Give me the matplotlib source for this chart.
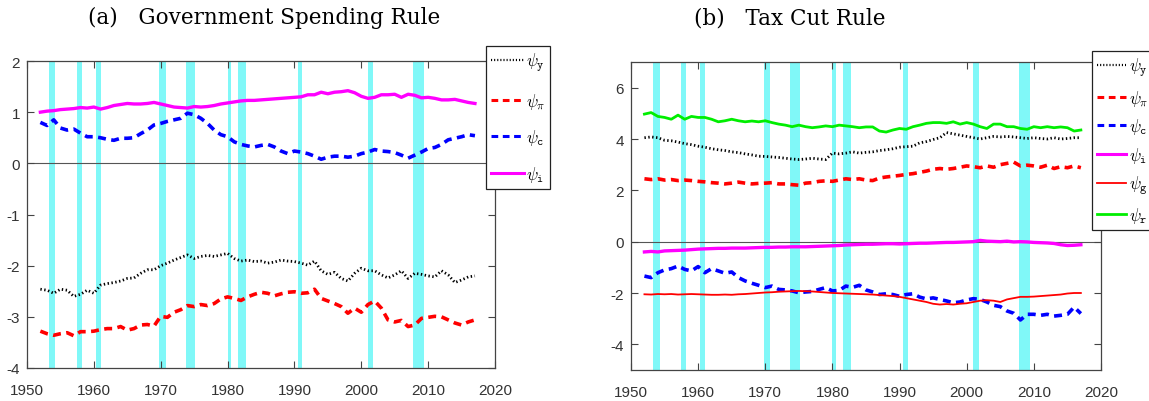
import matplotlib
matplotlib.use("Agg")
import matplotlib.pyplot as plt
from matplotlib.lines import Line2D

# ---------------- data ----------------
years = list(range(1952, 2018))

recessions = [(1953.25, 1954.25), (1957.5, 1958.25), (1960.25, 1961.0),
              (1969.75, 1970.75), (1973.75, 1975.1), (1980.0, 1980.5),
              (1981.5, 1982.8), (1990.5, 1991.2), (2001.0, 2001.8),
              (2007.8, 2009.4)]

# (a) Government spending rule
gs_y = [-2.46, -2.48, -2.54, -2.46, -2.48, -2.60, -2.56, -2.48, -2.54, -2.38,
        -2.35, -2.33, -2.30, -2.25, -2.24, -2.15, -2.08, -2.08, -2.00, -1.95,
        -1.89, -1.84, -1.79, -1.86, -1.82, -1.80, -1.82, -1.79, -1.76, -1.86,
        -1.91, -1.89, -1.92, -1.91, -1.95, -1.93, -1.89, -1.91, -1.92, -1.95,
        -1.99, -1.91, -2.10, -2.17, -2.13, -2.25, -2.30, -2.15, -2.05, -2.10,
        -2.10, -2.18, -2.24, -2.18, -2.10, -2.25, -2.15, -2.17, -2.20, -2.22,
        -2.10, -2.18, -2.33, -2.28, -2.22, -2.20]
gs_pi = [-3.28, -3.33, -3.36, -3.33, -3.31, -3.37, -3.29, -3.29, -3.28, -3.25,
         -3.23, -3.23, -3.19, -3.26, -3.23, -3.16, -3.15, -3.18, -2.99, -3.01,
         -2.91, -2.86, -2.78, -2.80, -2.76, -2.78, -2.74, -2.65, -2.61, -2.64,
         -2.68, -2.61, -2.56, -2.52, -2.54, -2.59, -2.55, -2.52, -2.51, -2.54,
         -2.53, -2.46, -2.64, -2.69, -2.74, -2.80, -2.93, -2.83, -2.91, -2.76,
         -2.69, -2.83, -3.06, -3.10, -3.07, -3.19, -3.16, -3.03, -3.01, -2.99,
         -3.00, -3.06, -3.12, -3.16, -3.10, -3.06]
gs_c = [0.80, 0.74, 0.85, 0.69, 0.65, 0.67, 0.59, 0.52, 0.52, 0.50,
        0.47, 0.45, 0.49, 0.49, 0.50, 0.58, 0.65, 0.75, 0.78, 0.82,
        0.85, 0.88, 0.98, 0.95, 0.88, 0.78, 0.65, 0.56, 0.52, 0.42,
        0.37, 0.34, 0.32, 0.35, 0.37, 0.32, 0.24, 0.19, 0.24, 0.22,
        0.19, 0.14, 0.08, 0.12, 0.14, 0.14, 0.12, 0.14, 0.19, 0.22,
        0.27, 0.24, 0.23, 0.21, 0.16, 0.10, 0.16, 0.22, 0.29, 0.31,
        0.37, 0.46, 0.49, 0.52, 0.56, 0.54]
gs_i = [1.00, 1.02, 1.03, 1.05, 1.06, 1.07, 1.09, 1.08, 1.10, 1.06,
        1.09, 1.13, 1.15, 1.17, 1.16, 1.16, 1.17, 1.19, 1.16, 1.13,
        1.10, 1.09, 1.08, 1.11, 1.10, 1.11, 1.13, 1.16, 1.18, 1.20,
        1.22, 1.23, 1.23, 1.24, 1.25, 1.26, 1.27, 1.28, 1.29, 1.30,
        1.34, 1.34, 1.39, 1.36, 1.39, 1.40, 1.42, 1.38, 1.31, 1.27,
        1.29, 1.34, 1.34, 1.35, 1.29, 1.35, 1.33, 1.28, 1.29, 1.27,
        1.24, 1.24, 1.25, 1.22, 1.19, 1.17]

# (b) Tax cut rule
tc_y = [4.05, 4.08, 4.05, 3.95, 3.93, 3.88, 3.82, 3.78, 3.72, 3.68,
        3.62, 3.58, 3.55, 3.50, 3.47, 3.42, 3.38, 3.33, 3.32, 3.30,
        3.28, 3.25, 3.22, 3.20, 3.22, 3.25, 3.22, 3.20, 3.45, 3.42,
        3.45, 3.50, 3.45, 3.48, 3.50, 3.55, 3.58, 3.62, 3.68, 3.70,
        3.72, 3.85, 3.90, 3.98, 4.05, 4.25, 4.20, 4.15, 4.10, 4.05,
        4.00, 4.05, 4.10, 4.08, 4.10, 4.08, 4.05, 4.02, 4.05, 4.02,
        4.00, 4.05, 4.00, 4.02, 4.05, 4.05]
tc_pi = [2.45, 2.42, 2.45, 2.40, 2.42, 2.38, 2.40, 2.38, 2.35, 2.33,
         2.30, 2.28, 2.25, 2.28, 2.32, 2.28, 2.25, 2.27, 2.28, 2.30,
         2.25, 2.25, 2.22, 2.20, 2.28, 2.30, 2.35, 2.37, 2.35, 2.40,
         2.45, 2.42, 2.45, 2.40, 2.38, 2.48, 2.52, 2.55, 2.58, 2.62,
         2.65, 2.70, 2.75, 2.82, 2.85, 2.82, 2.85, 2.90, 2.95, 2.92,
         2.88, 2.95, 2.90, 3.00, 3.05, 3.10, 2.95, 2.98, 2.95, 2.90,
         2.98, 2.85, 2.92, 2.88, 2.95, 2.88]
tc_c = [-1.34, -1.40, -1.21, -1.10, -1.05, -0.95, -1.08, -1.14, -0.97, -1.21,
        -1.05, -1.14, -1.23, -1.18, -1.40, -1.53, -1.62, -1.70, -1.79, -1.73,
        -1.86, -1.88, -1.92, -1.99, -1.96, -1.94, -1.86, -1.79, -1.92, -1.90,
        -1.73, -1.78, -1.70, -1.88, -1.96, -2.06, -2.03, -2.06, -2.13, -2.06,
        -2.03, -2.16, -2.23, -2.19, -2.25, -2.31, -2.38, -2.35, -2.27, -2.22,
        -2.25, -2.35, -2.48, -2.53, -2.70, -2.79, -3.05, -2.83, -2.83, -2.87,
        -2.83, -2.90, -2.87, -2.83, -2.55, -2.80]
tc_i = [-0.40, -0.38, -0.40, -0.36, -0.35, -0.34, -0.33, -0.31, -0.29, -0.28,
        -0.27, -0.26, -0.26, -0.25, -0.25, -0.25, -0.24, -0.23, -0.22, -0.22,
        -0.21, -0.21, -0.20, -0.20, -0.20, -0.19, -0.18, -0.17, -0.16, -0.15,
        -0.13, -0.12, -0.11, -0.10, -0.10, -0.09, -0.08, -0.08, -0.09, -0.08,
        -0.07, -0.06, -0.06, -0.05, -0.04, -0.03, -0.03, -0.02, -0.01, 0.00,
        0.05, 0.02, 0.01, 0.00, 0.02, -0.01, 0.00, -0.01, -0.03, -0.04,
        -0.05, -0.07, -0.12, -0.15, -0.14, -0.12]
tc_g = [-2.05, -2.06, -2.04, -2.05, -2.04, -2.06, -2.05, -2.04, -2.05, -2.06,
        -2.07, -2.07, -2.06, -2.07, -2.05, -2.04, -2.02, -2.00, -1.98, -1.97,
        -1.95, -1.94, -1.93, -1.92, -1.93, -1.94, -1.96, -1.98, -2.00, -2.01,
        -2.02, -2.03, -2.04, -2.05, -2.06, -2.08, -2.10, -2.12, -2.15, -2.20,
        -2.25, -2.30, -2.35, -2.42, -2.45, -2.43, -2.45, -2.42, -2.40, -2.35,
        -2.30, -2.28, -2.30, -2.35, -2.25, -2.20, -2.15, -2.15, -2.14, -2.12,
        -2.10, -2.08, -2.06, -2.02, -2.00, -2.00]
tc_r = [4.97, 5.03, 4.88, 4.84, 4.77, 4.93, 4.77, 4.88, 4.84, 4.84,
        4.77, 4.67, 4.71, 4.77, 4.71, 4.67, 4.70, 4.67, 4.71, 4.64,
        4.58, 4.54, 4.48, 4.54, 4.48, 4.44, 4.47, 4.51, 4.48, 4.54,
        4.51, 4.48, 4.44, 4.47, 4.47, 4.31, 4.27, 4.35, 4.41, 4.38,
        4.48, 4.54, 4.61, 4.64, 4.64, 4.61, 4.67, 4.58, 4.64, 4.58,
        4.48, 4.41, 4.58, 4.58, 4.48, 4.48, 4.41, 4.38, 4.48, 4.44,
        4.48, 4.44, 4.47, 4.44, 4.31, 4.35]

xticks = [1950, 1960, 1970, 1980, 1990, 2000, 2010, 2020]
yticks_a = [-4, -3, -2, -1, 0, 1, 2]
yticks_b = [-4, -2, 0, 2, 4, 6]

# ---------------- style ----------------
plt.rcParams['mathtext.fontset'] = 'cm'
plt.rcParams['axes.unicode_minus'] = False

W, H = 1149, 402
fig = plt.figure(figsize=(W / 100, H / 100), dpi=100)

def add_ax(x0, y0, x1, y1):
    return fig.add_axes([x0 / W, 1 - y1 / H, (x1 - x0) / W, (y1 - y0) / H])

ax1 = add_ax(27, 62, 495, 369)
ax2 = add_ax(631, 63, 1101, 371)

BAND = '#80f8f8'
AXC = '#444444'
DOT = (0, (0.5, 0.9))
DASH = (0, (2.2, 1.5))

styles = {
    'y': dict(color='black', lw=2.0, ls=DOT),
    'pi': dict(color='#ff0000', lw=2.6, ls=DASH),
    'c': dict(color='#0000ff', lw=2.6, ls=DASH),
    'i': dict(color='#ff00ff', lw=2.4, ls='-'),
    'g': dict(color='#ff0000', lw=1.3, ls='-'),
    'r': dict(color='#00ee00', lw=2.0, ls='-'),
}
labels = {
    'y': r'$\psi_{\mathtt{y}}$', 'pi': r'$\psi_{\pi}$', 'c': r'$\psi_{\mathtt{c}}$',
    'i': r'$\psi_{\mathtt{i}}$', 'g': r'$\psi_{\mathtt{g}}$', 'r': r'$\psi_{\mathtt{r}}$',
}

def style_axes(ax, ylim, yticks):
    ax.set_xlim(1950, 2020)
    ax.set_ylim(*ylim)
    for (a, b) in recessions:
        ax.axvspan(a, b, color=BAND, lw=0, zorder=0)
    ax.axhline(0, color='#555555', lw=0.8, zorder=1)
    ax.set_xticks(xticks)
    ax.set_yticks(yticks)
    ax.tick_params(direction='in', top=True, right=True, length=5,
                   width=0.8, color=AXC, labelcolor='#333333',
                   labelsize=11)
    ax.tick_params(axis='x', pad=11)
    ax.tick_params(axis='y', pad=5)
    for lab in ax.get_xticklabels() + ax.get_yticklabels():
        lab.set_family('Liberation Sans')
    for s in ax.spines.values():
        s.set_color(AXC)
        s.set_linewidth(0.9)

style_axes(ax1, (-4, 2), yticks_a)
style_axes(ax2, (-5, 7), yticks_b)

series_a = [('y', gs_y), ('pi', gs_pi), ('c', gs_c), ('i', gs_i)]
series_b = [('y', tc_y), ('pi', tc_pi), ('c', tc_c), ('i', tc_i),
            ('g', tc_g), ('r', tc_r)]

for k, v in series_a:
    ax1.plot(years, v, zorder=3, **styles[k])
for k, v in series_b:
    ax2.plot(years, v, zorder=3, **styles[k])

def make_legend(ax, keys, x0, y0, spacing, hlen, fs):
    handles = [Line2D([], [], color=styles[k]['color'],
                      lw=min(styles[k]['lw'], 2.2) if k != 'y' else 1.6,
                      ls=styles[k]['ls']) for k in keys]
    leg = ax.legend(handles, [labels[k] for k in keys], loc='upper left',
                    bbox_to_anchor=(x0 / W, 1 - y0 / H),
                    bbox_transform=fig.transFigure, fontsize=fs,
                    frameon=True, fancybox=False, framealpha=1,
                    edgecolor='#222222', borderaxespad=0, borderpad=0.3,
                    handlelength=hlen, handletextpad=0.15,
                    labelspacing=spacing)
    leg.get_frame().set_linewidth(0.9)
    leg.set_zorder(10)
    return leg

make_legend(ax1, ['y', 'pi', 'c', 'i'], 486, 47, 1.0, 1.95, 12)
make_legend(ax2, ['y', 'pi', 'c', 'i', 'g', 'r'], 1092, 52, 0.52, 1.75, 12)

fig.text(264 / W, 1 - 18 / H, '(a)   Government Spending Rule',
         ha='center', va='center', fontsize=15.5, family='DejaVu Serif')
fig.text(790 / W, 1 - 18 / H, '(b)   Tax Cut Rule',
         ha='center', va='center', fontsize=15.5, family='DejaVu Serif')

fig.savefig('out.png', dpi=100)
